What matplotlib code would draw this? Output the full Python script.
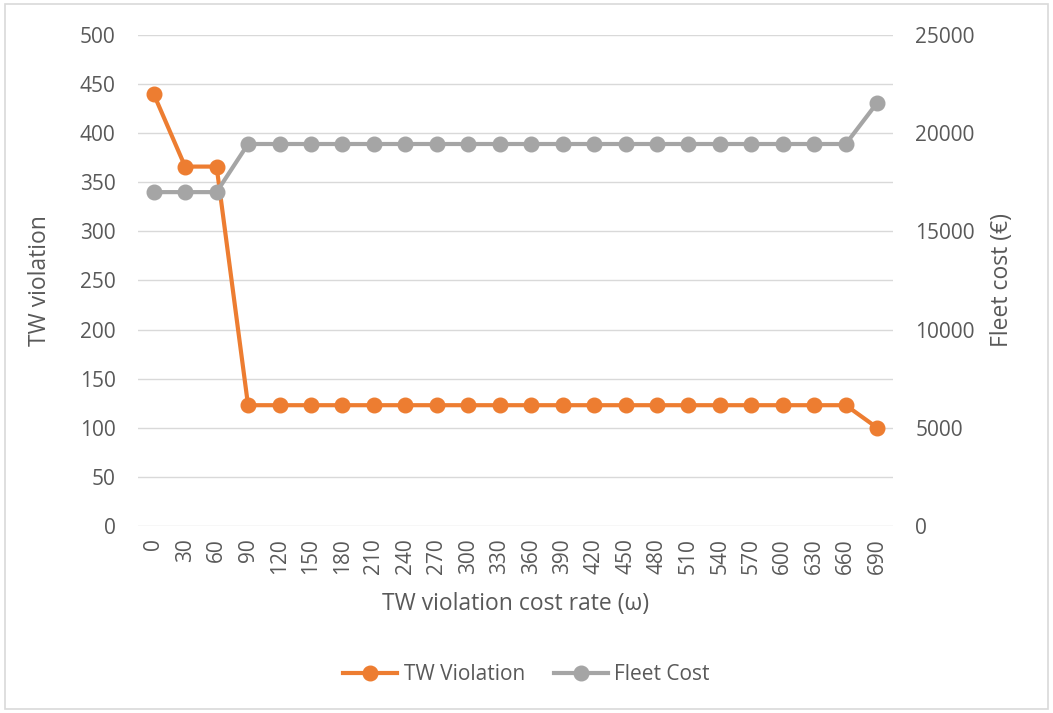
import matplotlib.pyplot as plt
from matplotlib.patches import Rectangle

# data
rates = [str(r) for r in range(0, 691, 30)]
tw_violation = [440, 366, 366] + [123] * 20 + [100]
fleet_cost = [17000, 17000, 17000] + [19450] * 20 + [21550]

orange = '#ED7D31'
gray = '#A5A5A5'
txt = '#595959'

plt.rcParams['font.family'] = ['Open Sans', 'DejaVu Sans']

fig = plt.figure(figsize=(10.53, 7.13), dpi=100)
fig.patches.append(Rectangle((0.005, 0.006), 0.99, 0.988, transform=fig.transFigure,
                             fill=False, edgecolor='#D9D9D9', linewidth=1.2))

ax = fig.add_axes([0.131, 0.2623, 0.717, 0.6886])
ax2 = ax.twinx()

x = list(range(len(rates)))
l1, = ax.plot(x, tw_violation, color=orange, lw=3, marker='o', ms=10.5, label='TW Violation')
l2, = ax2.plot(x, fleet_cost, color=gray, lw=3, marker='o', ms=10.5, label='Fleet Cost')

ax.set_xlim(-0.5, len(rates) - 0.5)
ax.set_ylim(0, 500)
ax.set_yticks(range(0, 501, 50))
ax2.set_ylim(0, 25000)
ax2.set_yticks(range(0, 25001, 5000))
ax.set_xticks(x)
ax.set_xticklabels(rates, rotation=90)

ax.grid(axis='y', color='#D9D9D9', lw=1)
ax.set_axisbelow(True)
for a in (ax, ax2):
    for s in a.spines.values():
        s.set_visible(False)
    a.tick_params(length=0, colors=txt, labelsize=15)
ax.tick_params(axis='y', pad=16)
ax.tick_params(axis='x', pad=9)
ax2.tick_params(axis='y', pad=16)

ax.set_ylabel('TW violation', color=txt, fontsize=16.5, labelpad=20)
ax2.set_ylabel('Fleet cost (€)', color=txt, fontsize=16.5, labelpad=11)
ax.set_xlabel('TW violation cost rate (ω)', color=txt, fontsize=16.5, labelpad=13)

fig.legend(handles=[l1, l2], loc='center', bbox_to_anchor=(0.5, 0.054), ncol=2,
           frameon=False, fontsize=15, labelcolor=txt, handlelength=2.6,
           handletextpad=0.3, columnspacing=1.4)

fig.savefig('out.png', dpi=100)
